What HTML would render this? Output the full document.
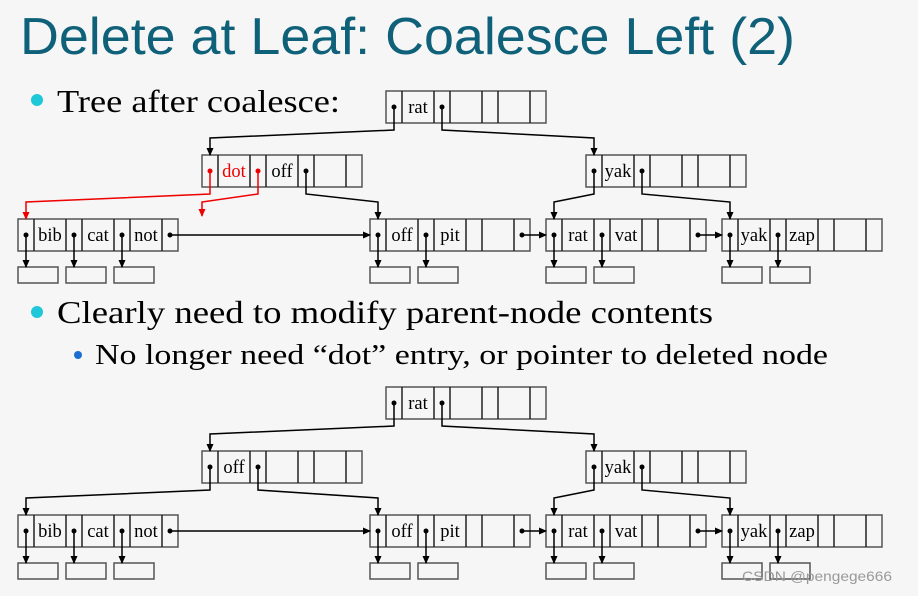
<!DOCTYPE html>
<html><head><meta charset="utf-8"><style>
html,body{margin:0;padding:0;background:#f6f6f6;}
svg{display:block}
</style></head><body>
<svg width="918" height="596" viewBox="0 0 918 596" xmlns="http://www.w3.org/2000/svg">
<defs>
<marker id="a" markerWidth="8" markerHeight="8" refX="7" refY="4" orient="auto" markerUnits="userSpaceOnUse"><path d="M0,0.5 L8,4 L0,7.5z" fill="#000"/></marker>
<marker id="r" markerWidth="8" markerHeight="8" refX="7" refY="4" orient="auto" markerUnits="userSpaceOnUse"><path d="M0,0.5 L8,4 L0,7.5z" fill="#e00"/></marker>
<g id="n">
<rect x="0" y="0" width="160" height="32" fill="none" stroke="#555" stroke-width="1.5"/>
<path d="M16,0V32M48,0V32M64,0V32M96,0V32M112,0V32M144,0V32" stroke="#222" stroke-width="1.5"/>
</g>
<rect id="b" width="40" height="16" fill="none" stroke="#555" stroke-width="1.5"/>
</defs>
<rect width="918" height="596" fill="#f6f6f6"/>
<text x="20" y="54" font-family="Liberation Sans, sans-serif" font-size="52" fill="#0f6079" textLength="775" lengthAdjust="spacingAndGlyphs">Delete at Leaf:  Coalesce Left (2)</text>
<circle cx="37" cy="100" r="6" fill="#1fc8d8"/>
<text x="57" y="112" font-family="Liberation Serif, serif" font-size="32" fill="#000" textLength="283" lengthAdjust="spacingAndGlyphs">Tree after coalesce:</text>
<circle cx="37" cy="312" r="6" fill="#1fc8d8"/>
<text x="57" y="323" font-family="Liberation Serif, serif" font-size="32" fill="#000" textLength="656" lengthAdjust="spacingAndGlyphs">Clearly need to modify parent-node contents</text>
<circle cx="78" cy="355" r="4" fill="#1a6fd0"/>
<text x="95" y="364" font-family="Liberation Serif, serif" font-size="29" fill="#000" textLength="733" lengthAdjust="spacingAndGlyphs">No longer need “dot” entry, or pointer to deleted node</text>

<g id="tree1">
<use href="#n" x="386" y="91"/>
<use href="#n" x="202" y="155"/>
<use href="#n" x="586" y="155"/>
<use href="#n" x="18" y="219"/>
<use href="#n" x="370" y="219"/>
<use href="#n" x="546" y="219"/>
<use href="#n" x="722" y="219"/>
<use href="#b" x="18" y="267"/><use href="#b" x="66" y="267"/><use href="#b" x="114" y="267"/>
<use href="#b" x="370" y="267"/><use href="#b" x="418" y="267"/>
<use href="#b" x="546" y="267"/><use href="#b" x="594" y="267"/>
<use href="#b" x="722" y="267"/><use href="#b" x="770" y="267"/>
<g font-family="Liberation Serif, serif" font-size="18.5" text-anchor="middle" fill="#000">
<text x="418" y="113">rat</text>
<text x="282" y="177">off</text>
<text x="618" y="177">yak</text>
<text x="50" y="241">bib</text><text x="98" y="241">cat</text><text x="146" y="241">not</text>
<text x="402" y="241">off</text><text x="450" y="241">pit</text>
<text x="578" y="241">rat</text><text x="626" y="241">vat</text>
<text x="754" y="241">yak</text><text x="802" y="241">zap</text>
</g>
<g fill="#000">
<circle cx="394" cy="107" r="2.5"/><circle cx="442" cy="107" r="2.5"/>
<circle cx="306" cy="171" r="2.5"/>
<circle cx="594" cy="171" r="2.5"/><circle cx="642" cy="171" r="2.5"/>
<circle cx="26" cy="235" r="2.5"/><circle cx="74" cy="235" r="2.5"/><circle cx="122" cy="235" r="2.5"/><circle cx="170" cy="235" r="2.5"/>
<circle cx="378" cy="235" r="2.5"/><circle cx="426" cy="235" r="2.5"/><circle cx="522" cy="235" r="2.5"/>
<circle cx="554" cy="235" r="2.5"/><circle cx="602" cy="235" r="2.5"/><circle cx="698" cy="235" r="2.5"/>
<circle cx="730" cy="235" r="2.5"/><circle cx="778" cy="235" r="2.5"/>
</g>
<g fill="none" stroke="#000" stroke-width="1.5" marker-end="url(#a)">
<polyline points="394,107 394,130 210,138 210,155"/>
<polyline points="442,107 442,130 594,138 594,155"/>
<polyline points="306,171 306,194 378,202 378,219"/>
<polyline points="594,171 594,194 554,202 554,219"/>
<polyline points="642,171 642,194 730,202 730,219"/>
<line x1="170" y1="235" x2="370" y2="235"/>
<line x1="522" y1="235" x2="546" y2="235"/>
<line x1="698" y1="235" x2="722" y2="235"/>
<line x1="26" y1="235" x2="26" y2="267"/><line x1="74" y1="235" x2="74" y2="267"/><line x1="122" y1="235" x2="122" y2="267"/>
<line x1="378" y1="235" x2="378" y2="267"/><line x1="426" y1="235" x2="426" y2="267"/>
<line x1="554" y1="235" x2="554" y2="267"/><line x1="602" y1="235" x2="602" y2="267"/>
<line x1="730" y1="235" x2="730" y2="267"/><line x1="778" y1="235" x2="778" y2="267"/>
</g>
</g>
<g font-family="Liberation Serif, serif" font-size="18.5" text-anchor="middle" fill="#e00"><text x="234" y="177">dot</text></g>
<circle cx="210" cy="171" r="2.5" fill="#e00"/><circle cx="258" cy="171" r="2.5" fill="#e00"/>
<g fill="none" stroke="#e00" stroke-width="1.5" marker-end="url(#r)">
<polyline points="210,171 210,194 26,202 26,219"/>
<polyline points="258,171 258,194 202,202 202,216"/>
</g>

<g transform="translate(0,296)">
<use href="#n" x="386" y="91"/>
<use href="#n" x="202" y="155"/>
<use href="#n" x="586" y="155"/>
<use href="#n" x="18" y="219"/>
<use href="#n" x="370" y="219"/>
<use href="#n" x="546" y="219"/>
<use href="#n" x="722" y="219"/>
<use href="#b" x="18" y="267"/><use href="#b" x="66" y="267"/><use href="#b" x="114" y="267"/>
<use href="#b" x="370" y="267"/><use href="#b" x="418" y="267"/>
<use href="#b" x="546" y="267"/><use href="#b" x="594" y="267"/>
<use href="#b" x="722" y="267"/><use href="#b" x="770" y="267"/>
<g font-family="Liberation Serif, serif" font-size="18.5" text-anchor="middle" fill="#000">
<text x="418" y="113">rat</text>
<text x="234" y="177">off</text>
<text x="618" y="177">yak</text>
<text x="50" y="241">bib</text><text x="98" y="241">cat</text><text x="146" y="241">not</text>
<text x="402" y="241">off</text><text x="450" y="241">pit</text>
<text x="578" y="241">rat</text><text x="626" y="241">vat</text>
<text x="754" y="241">yak</text><text x="802" y="241">zap</text>
</g>
<g fill="#000">
<circle cx="394" cy="107" r="2.5"/><circle cx="442" cy="107" r="2.5"/>
<circle cx="210" cy="171" r="2.5"/><circle cx="258" cy="171" r="2.5"/>
<circle cx="594" cy="171" r="2.5"/><circle cx="642" cy="171" r="2.5"/>
<circle cx="26" cy="235" r="2.5"/><circle cx="74" cy="235" r="2.5"/><circle cx="122" cy="235" r="2.5"/><circle cx="170" cy="235" r="2.5"/>
<circle cx="378" cy="235" r="2.5"/><circle cx="426" cy="235" r="2.5"/><circle cx="522" cy="235" r="2.5"/>
<circle cx="554" cy="235" r="2.5"/><circle cx="602" cy="235" r="2.5"/><circle cx="698" cy="235" r="2.5"/>
<circle cx="730" cy="235" r="2.5"/><circle cx="778" cy="235" r="2.5"/>
</g>
<g fill="none" stroke="#000" stroke-width="1.5" marker-end="url(#a)">
<polyline points="394,107 394,130 210,138 210,155"/>
<polyline points="442,107 442,130 594,138 594,155"/>
<polyline points="210,171 210,194 26,202 26,219"/>
<polyline points="258,171 258,194 378,202 378,219"/>
<polyline points="594,171 594,194 554,202 554,219"/>
<polyline points="642,171 642,194 730,202 730,219"/>
<line x1="170" y1="235" x2="370" y2="235"/>
<line x1="522" y1="235" x2="546" y2="235"/>
<line x1="698" y1="235" x2="722" y2="235"/>
<line x1="26" y1="235" x2="26" y2="267"/><line x1="74" y1="235" x2="74" y2="267"/><line x1="122" y1="235" x2="122" y2="267"/>
<line x1="378" y1="235" x2="378" y2="267"/><line x1="426" y1="235" x2="426" y2="267"/>
<line x1="554" y1="235" x2="554" y2="267"/><line x1="602" y1="235" x2="602" y2="267"/>
<line x1="730" y1="235" x2="730" y2="267"/><line x1="778" y1="235" x2="778" y2="267"/>
</g>
</g>
<text x="742" y="581" font-family="Liberation Sans, sans-serif" font-size="14" fill="#999" textLength="150" lengthAdjust="spacingAndGlyphs">CSDN @pengege666</text>
</svg>
</body></html>
